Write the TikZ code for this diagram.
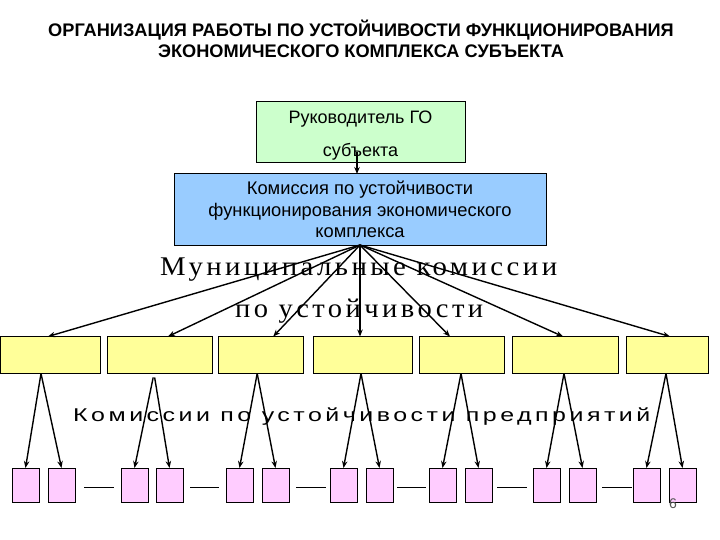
\documentclass[tikz,border=0pt]{standalone}
\usepackage{fontspec}
\setmainfont{Liberation Sans}
\newfontfamily\serifsp[LetterSpace=12]{Liberation Serif}
\newfontfamily\sanssp[LetterSpace=14]{Liberation Sans}
\usetikzlibrary{arrows.meta}
\definecolor{gboxc}{HTML}{CCFFCC}
\definecolor{bboxc}{HTML}{99CCFF}
\definecolor{yboxc}{HTML}{FFFF99}
\definecolor{pboxc}{HTML}{FFCCFF}
\definecolor{numc}{HTML}{555555}
\begin{document}
\begin{tikzpicture}[x=1pt,y=-1pt,
  box/.style={draw=black, line width=1pt, inner sep=0pt, outer sep=0pt},
  ybx/.style={box, fill=yboxc, minimum width=#1, minimum height=37},
  pbx/.style={box, fill=pboxc, minimum width=27, minimum height=34},
  arr/.style={-{Stealth[length=7pt,width=5.5pt]}, line width=1.4pt},
  dashln/.style={line width=1pt},
  titlefont/.style={font=\fontsize{18.2}{22}\bfseries\selectfont},
]
\useasboundingbox (0,0) rectangle (720,540);

% title
\node[titlefont, anchor=base] (t1) at (361,37) {ОРГАНИЗАЦИЯ РАБОТЫ ПО УСТОЙЧИВОСТИ ФУНКЦИОНИРОВАНИЯ};
\node[titlefont, anchor=base] (t2) at (361,58) {ЭКОНОМИЧЕСКОГО КОМПЛЕКСА СУБЪЕКТА};

% top boxes
\node[box, fill=gboxc, minimum width=209, minimum height=61, align=center,
      font=\fontsize{18}{21.6}\selectfont] (head) at (360.5,132.5)
      {\rule{0pt}{19pt}Руководитель ГО\\[11.4pt]субъекта};
\node[box, fill=bboxc, minimum width=372, minimum height=71, align=center,
      font=\fontsize{18.3}{21.5}\selectfont] (comm) at (360,209.5)
      {Комиссия по устойчивости\\функционирования экономического\\комплекса};
\coordinate (hs) at (357,152);
\draw[arr] (hs) -- (hs |- comm.north);

% middle texts
\node[anchor=base west, inner sep=0pt] (m1) at (160,275)
  {\resizebox{397pt}{\height}{\serifsp\fontsize{27}{30}\selectfont Муниципальные комиссии}};
\node[anchor=base west, inner sep=0pt] (m2) at (235,317)
  {\resizebox{248pt}{\height}{\serifsp\fontsize{27}{30}\selectfont по устойчивости}};

% yellow boxes
\node[ybx=100] (y1) at (50.7,355) {};
\node[ybx=105] (y2) at (159.5,355) {};
\node[ybx=85.5] (y3) at (261.2,355) {};
\node[ybx=99] (y4) at (362.5,355) {};
\node[ybx=85] (y5) at (461.5,355) {};
\node[ybx=106] (y6) at (565,355) {};
\node[ybx=82] (y7) at (667,355) {};

\coordinate (cs) at (360,245);
\draw[arr] (cs) -- ([xshift=-2.7pt]y1.north);
\draw[arr] (cs) -- ([xshift=8.5pt]y2.north);
\draw[arr] (cs) -- ([xshift=12pt]y3.north);
\draw[arr] (cs) -- (cs |- y4.north);
\draw[arr] (cs) -- ([xshift=-11.5pt]y5.north);
\draw[arr] (cs) -- ([xshift=-2pt]y6.north);
\draw[arr] (cs) -- ([xshift=3pt]y7.north);

% bottom text
\node[anchor=base west, inner sep=0pt] (m3) at (73,421)
  {\resizebox{577pt}{\height}{\sanssp\fontsize{18.5}{21}\selectfont Комиссии по устойчивости предприятий}};

% pink boxes
\foreach \n/\x in {1/25.5,2/61.5,3/134.5,4/169.5,5/239.5,6/275.5,7/343.5,8/379.5,
                   9/442.5,10/478.5,11/546.5,12/582.5,13/646.5,14/682.5}
  \node[pbx] (p\n) at (\x,485) {};

\draw[arr] ([xshift=-9.7pt]y1.south) -- (p1.north);
\draw[arr] ([xshift=-9.7pt]y1.south) -- (p2.north);
\draw[arr, shorten <=4pt] ([xshift=-5.5pt]y2.south) -- (p3.north);
\draw[arr, shorten <=4pt] ([xshift=-5.5pt]y2.south) -- (p4.north);
\draw[arr] ([xshift=-4pt]y3.south) -- (p5.north);
\draw[arr] ([xshift=-4pt]y3.south) -- (p6.north);
\draw[arr] ([xshift=-1.5pt]y4.south) -- (p7.north);
\draw[arr] ([xshift=-1.5pt]y4.south) -- (p8.north);
\draw[arr] ([xshift=-0.5pt]y5.south) -- (p9.north);
\draw[arr] ([xshift=-0.5pt]y5.south) -- (p10.north);
\draw[arr] ([xshift=-1pt]y6.south) -- (p11.north);
\draw[arr] ([xshift=-1pt]y6.south) -- (p12.north);
\draw[arr] ([xshift=-1pt]y7.south) -- (p13.north);
\draw[arr] ([xshift=-1pt]y7.south) -- (p14.north);

% dashes between pairs
\draw[dashln] ([xshift=9pt,yshift=-2pt]p2.east) -- ([xshift=-7pt,yshift=-2pt]p3.west);
\draw[dashln] ([xshift=7pt,yshift=-2pt]p4.east) -- ([xshift=-7pt,yshift=-2pt]p5.west);
\draw[dashln] ([xshift=7pt,yshift=-2pt]p6.east) -- ([xshift=-4pt,yshift=-2pt]p7.west);
\draw[dashln] ([xshift=4pt,yshift=-2pt]p8.east) -- ([xshift=-3pt,yshift=-2pt]p9.west);
\draw[dashln] ([xshift=5pt,yshift=-2pt]p10.east) -- ([xshift=-6pt,yshift=-2pt]p11.west);
\draw[dashln] ([xshift=6pt,yshift=-2pt]p12.east) -- ([xshift=-1pt,yshift=-2pt]p13.west);

% page number
\node[text=numc, font=\fontsize{14}{16}\selectfont, inner sep=0pt] (pg) at (673,504) {6};
\end{tikzpicture}
\end{document}
